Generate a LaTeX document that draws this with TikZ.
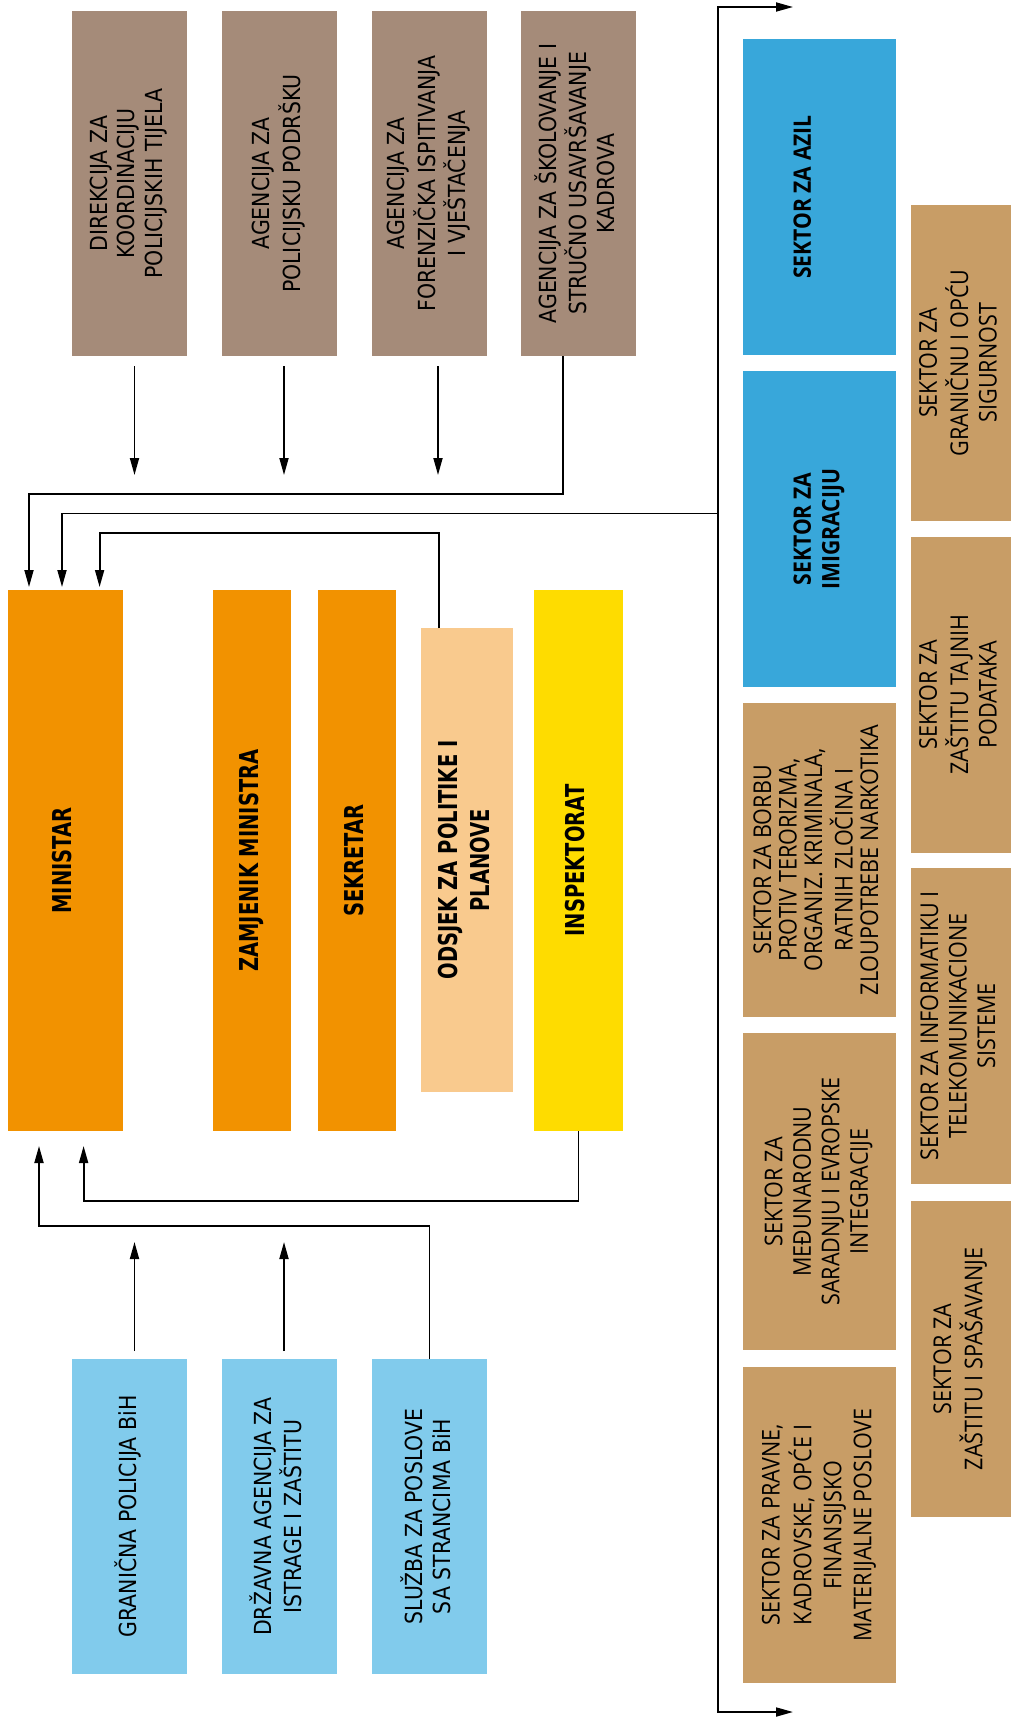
\documentclass[tikz,border=0pt]{standalone}
\usepackage{fontspec}
\usepackage{graphicx}
\usepackage{color}
\usetikzlibrary{arrows.meta}
\newfontfamily\dejareg[FakeStretch=0.87]{DejaVu Sans}
\newfontfamily\dejabf[FakeStretch=0.75]{DejaVu Sans}
\newfontfamily\opens[FakeStretch=0.88]{Open Sans}
\definecolor{agency}{RGB}{165,139,121}
\definecolor{chief}{RGB}{242,146,0}
\definecolor{policy}{RGB}{249,202,142}
\definecolor{inspect}{RGB}{254,220,0}
\definecolor{police}{RGB}{129,203,236}
\definecolor{migra}{RGB}{56,167,218}
\definecolor{sector}{RGB}{200,157,102}
\newcommand{\vlabel}[1]{\rotatebox{90}{\begin{tabular}{@{}c@{}}#1\end{tabular}}}

\begin{document}
\begin{tikzpicture}[x=1pt, y=-1pt, line width=1.8pt, >={Triangle[length=17pt,width=9pt]},
    agencybox/.style={fill=agency, minimum width=115pt, minimum height=345pt, font=\dejareg\fontsize{23.5}{27.5}\selectfont},
    policebox/.style={fill=police, minimum width=115pt, minimum height=315pt, font=\dejareg\fontsize{23.5}{27.5}\selectfont},
    chiefbox/.style={fill=chief, minimum width=78pt, minimum height=541pt, font=\dejabf\bfseries\fontsize{26}{32}\selectfont},
    sectorbox/.style={fill=sector, minimum width=153pt, minimum height=316pt, font=\opens\fontsize{24.5}{28.5}\selectfont},
    sidebox/.style={fill=sector, minimum width=100pt, minimum height=316pt, font=\opens\fontsize{24.5}{28.5}\selectfont}]
                \tikzstyle{every node}+=[inner sep=0pt, outer sep=0pt]
                \useasboundingbox (0,0) rectangle (1011,1717);
                \node [agencybox] (dir) at (129.5,183.5) {\vlabel{DIREKCIJA ZA\\KOORDINACIJU\\POLICIJSKIH TIJELA}};
                \node [agencybox] (apod) at (279.5,183.5) {\vlabel{AGENCIJA ZA\\POLICIJSKU PODRŠKU}};
                \node [agencybox] (afor) at (429.5,183.5) {\vlabel{AGENCIJA ZA\\FORENZIČKA ISPITIVANJA\\I VJEŠTAČENJA}};
                \node [agencybox] (askol) at (578.5,183.5) {\vlabel{AGENCIJA ZA ŠKOLOVANJE I\\STRUČNO USAVRŠAVANJE\\KADROVA}};
                \node [chiefbox, minimum width=115pt] (ministar) at (65.5,860.5) {\vlabel{MINISTAR}};
                \node [chiefbox] (zamjenik) at (252,860.5) {\vlabel{ZAMJENIK MINISTRA}};
                \node [chiefbox] (sekretar) at (357,860.5) {\vlabel{SEKRETAR}};
                \node [chiefbox, fill=policy, minimum width=92pt, minimum height=464pt] (odsjek) at (467,860) {\vlabel{ODSJEK ZA POLITIKE I\\PLANOVE}};
                \node [chiefbox, fill=inspect, minimum width=89pt] (inspektorat) at (578.5,860.5) {\vlabel{INSPEKTORAT}};
                \node [policebox] (gp) at (129.5,1516.5) {\vlabel{GRANIČNA POLICIJA BiH}};
                \node [policebox] (sipa) at (279.5,1516.5) {\vlabel{DRŽAVNA AGENCIJA ZA\\ISTRAGE I ZAŠTITU}};
                \node [policebox] (sps) at (429.5,1516.5) {\vlabel{SLUŽBA ZA POSLOVE\\SA STRANCIMA BiH}};
                \node [sectorbox, fill=migra, font=\opens\bfseries\fontsize{24}{28.5}\selectfont] (azil) at (819.5,197) {\vlabel{SEKTOR ZA AZIL\\~}};
                \node [sectorbox, fill=migra, font=\opens\bfseries\fontsize{24}{28.5}\selectfont] (imig) at (819.5,529) {\vlabel{SEKTOR ZA\\IMIGRACIJU}};
                \node [sectorbox, minimum height=314pt, font=\opens\fontsize{24.5}{25.5}\selectfont] (borbu) at (819.5,860) {\vlabel{SEKTOR ZA BORBU\\PROTIV TERORIZMA,\\ORGANIZ. KRIMINALA,\\RATNIH ZLOČINA I\\ZLOUPOTREBE NARKOTIKA}};
                \node [sectorbox, minimum height=317pt] (medj) at (819.5,1191.5) {\vlabel{SEKTOR ZA\\MEĐUNARODNU\\SARADNJU I EVROPSKE\\INTEGRACIJE}};
                \node [sectorbox, font=\opens\fontsize{24.5}{30}\selectfont] (pravne) at (819.5,1525) {\vlabel{SEKTOR ZA PRAVNE,\\KADROVSKE, OPĆE I\\FINANSIJSKO\\MATERIJALNE POSLOVE}};
                \node [sidebox] (granicnu) at (961,362.75) {\vlabel{SEKTOR ZA\\GRANIČNU I OPĆU\\SIGURNOST}};
                \node [sidebox] (tajnih) at (961,694.5) {\vlabel{SEKTOR ZA\\ZAŠTITU TAJNIH\\PODATAKA}};
                \node [sidebox] (informatiku) at (961,1026) {\vlabel{SEKTOR ZA INFORMATIKU I\\TELEKOMUNIKACIONE\\SISTEME}};
                \node [sidebox] (spasavanje) at (961,1359) {\vlabel{SEKTOR ZA\\ZAŠTITU I SPAŠAVANJE}};
                \coordinate (dirtip) at (134.5,475);
                \coordinate (apodtip) at (284,475);
                \coordinate (afortip) at (438,475);
                \coordinate (gptip) at (134.5,1242);
                \coordinate (sipatip) at (284,1242);
                \coordinate (k1) at (29,494);
                \coordinate (k2) at (62,513.5);
                \coordinate (k3) at (99.6,533);
                \coordinate (k4) at (83.6,1200.6);
                \coordinate (k5) at (39,1226);
                \coordinate (bustop) at (718,7);
                \coordinate (busbot) at (718,1712);
                \coordinate (toptip) at (793,7);
                \coordinate (bottip) at (793,1712);
                \draw [black, ->, shorten <=10pt] (dirtip |- dir.south) -- (dirtip);
                \draw [black, ->, shorten <=10pt] (apodtip |- apod.south) -- (apodtip);
                \draw [black, ->, shorten <=10pt] (afortip |- afor.south) -- (afortip);
                \draw [black, ->, shorten <=8pt] (gptip |- gp.north) -- (gptip);
                \draw [black, ->, shorten <=8pt] (sipatip |- sipa.north) -- (sipatip);
                \draw [black, ->, shorten >=3pt] ([xshift=-15.5pt]askol.south) |- (k1) -- (k1 |- ministar.north);
                \draw [black, ->, shorten >=3pt] (bustop |- k2) -- (k2) -- (k2 |- ministar.north);
                \draw [black, ->, shorten >=3pt] ([xshift=-28pt]odsjek.north) |- (k3) -- (k3 |- ministar.north);
                \draw [black, ->, shorten >=15pt] (inspektorat.south) |- (k4) -- (k4 |- ministar.south);
                \draw [black, ->, shorten >=15pt] (sps.north) |- (k5) -- (k5 |- ministar.south);
                \draw [black, <->] (toptip) -- (bustop) -- (busbot) -- (bottip);
\end{tikzpicture}
\end{document}
